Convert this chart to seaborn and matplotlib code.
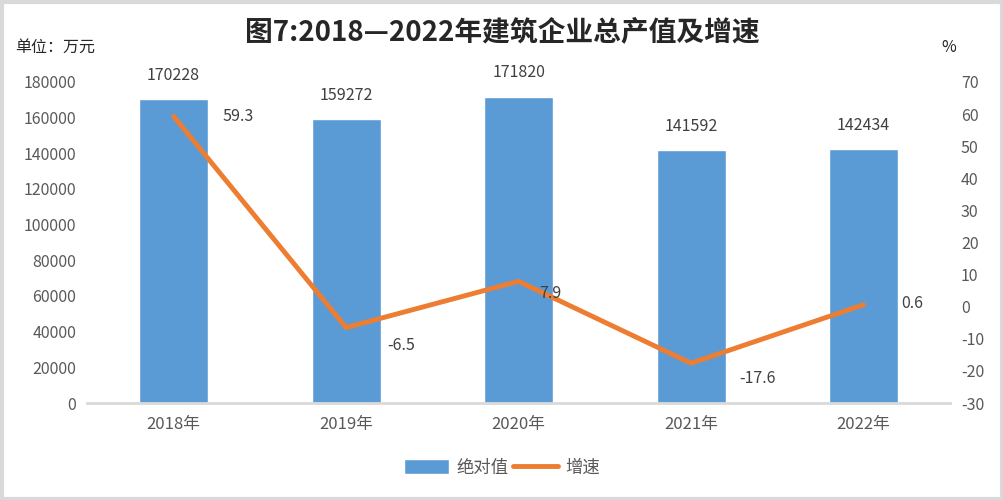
import numpy as np
import pandas as pd
import matplotlib
matplotlib.use('Agg')
import matplotlib.pyplot as plt
import seaborn as sns
from matplotlib.patches import Rectangle
from matplotlib.lines import Line2D
from matplotlib.patches import Patch

years = ['2018年', '2019年', '2020年', '2021年', '2022年']
output_value = [170228, 159272, 171820, 141592, 142434]
growth = [59.3, -6.5, 7.9, -17.6, 0.6]
growth_labels = ['59.3', '-6.5', '7.9', '-17.6', '0.6']

df = pd.DataFrame({'year': years, 'value': output_value, 'growth': growth})

sns.set_theme(style='white')
plt.rcParams['font.family'] = ['Noto Sans CJK SC', 'DejaVu Sans']
plt.rcParams['axes.unicode_minus'] = False

blue = '#5B9BD5'
orange = '#ED7D31'
text_gray = '#595959'

fig = plt.figure(figsize=(10.04, 5.0), dpi=100)
ax = fig.add_axes([0.087, 0.194, 0.859, 0.642])

sns.barplot(x='year', y='value', data=df, color=blue, width=0.4, ax=ax, saturation=1)
ax.set_ylim(0, 180000)
ax.set_yticks(range(0, 180001, 20000))
ax.set_xlim(-0.5, 4.5)
ax.set_xlabel('')
ax.set_ylabel('')
for s in ['top', 'left', 'right']:
    ax.spines[s].set_visible(False)
ax.spines['bottom'].set_color('#D9D9D9')
ax.spines['bottom'].set_linewidth(2)
ax.tick_params(axis='both', length=0, labelsize=11.5, colors=text_gray)
ax.tick_params(axis='x', labelsize=12, pad=9)
ax.tick_params(axis='y', pad=8)

# value labels on bars
for i, v in enumerate(output_value):
    ax.annotate(str(v), (i, v), xytext=(0, 11), textcoords='offset points',
                ha='center', va='bottom', fontsize=11.5, color='#404040')

ax2 = ax.twinx()
ax2.plot(range(len(years)), growth, color=orange, linewidth=3.5, solid_capstyle='round')
ax2.set_ylim(-30, 70)
ax2.set_yticks(range(-30, 71, 10))
for s in ['top', 'left', 'right', 'bottom']:
    ax2.spines[s].set_visible(False)
ax2.tick_params(axis='y', length=0, labelsize=11.5, colors=text_gray, pad=8)
ax2.grid(False)
ax.grid(False)

label_offsets = [(35, 0), (30, -13), (15, -9), (35, -11), (27, 1)]
for i, (g, t) in enumerate(zip(growth, growth_labels)):
    ax2.annotate(t, (i, g), xytext=label_offsets[i], textcoords='offset points',
                 ha='left', va='center', fontsize=11.5, color='#404040')

fig.text(0.5, 0.935, '图7:2018—2022年建筑企业总产值及增速', ha='center', va='center',
         fontsize=20, fontweight='bold', color='#262626')
fig.text(0.015, 0.905, '单位：万元', ha='left', va='center', fontsize=11.5, color='#262626')
fig.text(0.945, 0.905, '%', ha='center', va='center', fontsize=11.5, color='#262626')

handles = [Patch(facecolor=blue, label='绝对值'),
           Line2D([0], [0], color=orange, linewidth=3.5, label='增速')]
fig.legend(handles=handles, loc='center', bbox_to_anchor=(0.5, 0.065), ncol=2,
           frameon=False, fontsize=12.5, handlelength=2.6, handleheight=0.9,
           columnspacing=0.3, handletextpad=0.4, labelcolor=text_gray)

fig.patches.append(Rectangle((0.0015, 0.003), 0.997, 0.994, transform=fig.transFigure,
                             fill=False, edgecolor='#D9D9D9', linewidth=3))

plt.savefig('out.png', dpi=100)
